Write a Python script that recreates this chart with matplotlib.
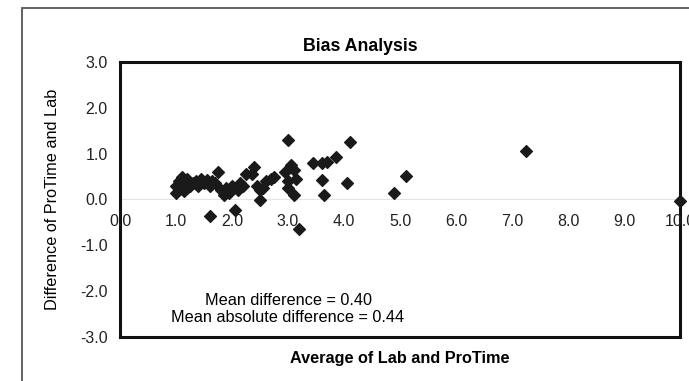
import matplotlib.pyplot as plt
from matplotlib.patches import Rectangle

plt.rcParams['font.family'] = ['Liberation Sans', 'DejaVu Sans']

# average of lab and protime
avg = [1.0, 1.0, 1.05, 1.05, 1.1, 1.1, 1.15, 1.15, 1.2, 1.2,
       1.25, 1.3, 1.35, 1.4, 1.45, 1.5, 1.55, 1.6, 1.65, 1.7,
       1.75, 1.8, 1.85, 1.6, 1.9, 1.95, 2.0, 2.05, 2.1, 2.15,
       2.2, 2.25, 2.35, 2.4, 2.45, 2.5, 2.5, 2.55, 2.6, 2.7,
       2.75, 2.95, 3.0, 3.0, 3.0, 3.05, 3.1, 3.1, 3.15, 3.2,
       3.45, 3.6, 3.7, 3.85, 3.6, 3.65, 4.05, 4.1, 4.9, 5.1,
       7.25, 10.0]
# difference of protime and lab
diff = [0.15, 0.30, 0.22, 0.40, 0.50, 0.30, 0.35, 0.18, 0.45, 0.25,
        0.30, 0.35, 0.40, 0.30, 0.45, 0.35, 0.42, 0.30, 0.40, 0.35,
        0.60, 0.20, 0.10, -0.35, 0.25, 0.15, 0.30, -0.22, 0.20, 0.35,
        0.30, 0.55, 0.55, 0.70, 0.30, 0.20, -0.02, 0.25, 0.40, 0.45,
        0.50, 0.60, 0.40, 0.25, 1.30, 0.75, 0.65, 0.10, 0.45, -0.65,
        0.80, 0.80, 0.82, 0.92, 0.42, 0.10, 0.35, 1.25, 0.15, 0.52,
        1.05, -0.03]

xticks = [0, 1, 2, 3, 4, 5, 6, 7, 8, 9, 10]
yticks = [-3, -2, -1, 0, 1, 2, 3]

fig = plt.figure(figsize=(6.89, 3.81), dpi=100)
ax = fig.add_axes([0.1742, 0.1155, 0.8128, 0.7218])

# outer chart border
fig.patches.append(Rectangle((0.032, -0.1), 1.1, 1.079, transform=fig.transFigure,
                             fill=False, edgecolor='#555555', linewidth=1.3))

ax.axhline(0, color='#e4e4e4', linewidth=0.8, zorder=0)
ax.scatter(avg, diff, marker='D', s=36, color='#1a1a1a', zorder=3, clip_on=False)

ax.set_xlim(0, 10)
ax.set_ylim(-3, 3)
for s in ax.spines.values():
    s.set_linewidth(2.2)
    s.set_color('#111111')

ax.set_xticks([])
ax.set_yticks(yticks)
ax.set_yticklabels([f'{v:.1f}' for v in yticks])
ax.tick_params(axis='y', length=0, pad=9, labelsize=11.5, labelcolor='#222222')

# x tick labels sit just under the zero line
for v in xticks:
    ax.annotate(f'{v:.1f}', (v, 0), xytext=(0, -15.5), textcoords='offset points',
                ha='center', va='center', fontsize=11.5, color='#222222',
                annotation_clip=False)

ax.set_ylabel('Difference of ProTime and Lab', fontsize=11.7)
ax.yaxis.set_label_coords(-0.107, 0.5)

fig.text(0.5225, 0.879, 'Bias Analysis', fontsize=12.8, fontweight='bold',
         ha='center', va='center')
fig.text(0.5806, 0.060, 'Average of Lab and ProTime', fontsize=11.7, fontweight='bold',
         ha='center', va='center')

ax.text(0.30, 0.1345, 'Mean difference = 0.40', transform=ax.transAxes,
        ha='center', va='center', fontsize=11.7)
ax.text(0.30, 0.0727, 'Mean absolute difference = 0.44', transform=ax.transAxes,
        ha='center', va='center', fontsize=11.7)

fig.savefig('out.png', dpi=100)
